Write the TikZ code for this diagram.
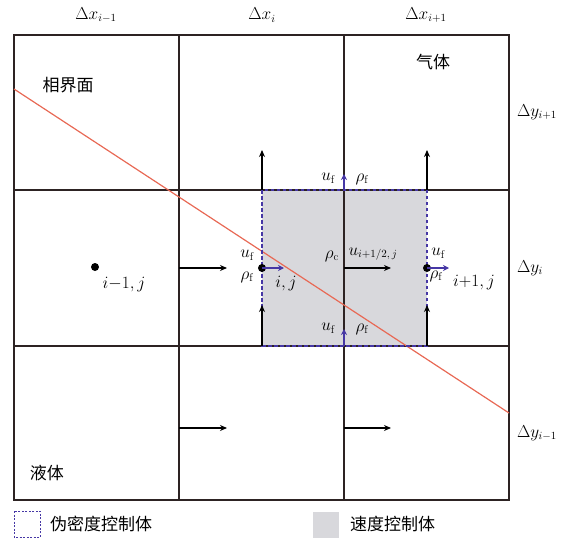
\documentclass[tikz,border=0pt]{standalone}
\usepackage{fontspec}
\newfontfamily\cjk{Noto Sans CJK SC}
\usetikzlibrary{arrows.meta}
\definecolor{gridc}{RGB}{45,35,35}
\definecolor{redl}{RGB}{232,105,85}
\definecolor{bluec}{RGB}{70,55,165}
\definecolor{grayf}{RGB}{216,216,220}
\begin{document}
\begin{tikzpicture}[x=1pt,y=-1pt,
  gridline/.style={draw=gridc,line width=1.6pt},
  blk/.style={-{Stealth[length=7pt,width=6pt]},line width=1.3pt,black},
  blu/.style={-{Stealth[length=6pt,width=6pt]},line width=1.8pt,bluec},
  lab/.style={font=\fontsize{16}{18}\selectfont,inner sep=0pt},
  cn/.style={font=\cjk\fontsize{17}{19}\selectfont,inner sep=0pt},
  dotn/.style={circle,fill=black,inner sep=0pt,minimum size=8pt}]
\useasboundingbox (0,0) rectangle (566,538);
% velocity control volume
\fill[grayf] (262,190) rectangle (427,346);
% grid
\draw[gridline] (14,35) rectangle (509,500);
\draw[gridline] (179,35) -- (179,500) (344,35) -- (344,500);
\draw[gridline] (14,190) -- (509,190) (14,346) -- (509,346);
% interface
\coordinate (ifa) at (14,89);
\coordinate (ifb) at (509,413);
\draw[redl,line width=1.2pt] (ifa) -- (ifb);
% pseudo-density control volume
\draw[bluec,line width=1.3pt,dash pattern=on 3.5pt off 2.5pt] (262,190) rectangle (427,346);
% cell centres
\node[dotn] (pim) at (95,267) {};
\node[dotn] (pc) at (262,268) {};
\node[dotn] (pip) at (427,268) {};
% black velocity arrows
\coordinate (h1s) at (179,268); \coordinate (h1e) at (227,268);
\coordinate (h2s) at (344,268); \coordinate (h2e) at (391,268);
\coordinate (h3s) at (179,428); \coordinate (h3e) at (227,428);
\coordinate (h4s) at (344,428); \coordinate (h4e) at (391,428);
\coordinate (v1s) at (262,190); \coordinate (v1e) at (262,150);
\coordinate (v2s) at (427,190); \coordinate (v2e) at (427,150);
\coordinate (v3s) at (262,346); \coordinate (v3e) at (262,305);
\coordinate (v4s) at (427,346); \coordinate (v4e) at (427,305);
\foreach \a in {h1,h2,h3,h4,v1,v2,v3,v4} \draw[blk] (\a s) -- (\a e);
% blue face arrows
\coordinate (b1e) at (284,268);
\coordinate (b2e) at (449,268);
\coordinate (b3s) at (344,190); \coordinate (b3e) at (344,174);
\coordinate (b4s) at (344,346); \coordinate (b4e) at (344,329);
\draw[blu] (pc.center) -- (b1e);
\draw[blu] (pip.center) -- (b2e);
\draw[blu] (b3s) -- (b3e);
\draw[blu] (b4s) -- (b4e);
% axis labels
\node[lab] (dx1) at (96,15) {$\Delta x_{i-1}$};
\node[lab] (dx2) at (262,15) {$\Delta x_{i}$};
\node[lab] (dx3) at (426,15) {$\Delta x_{i+1}$};
\node[lab] (dy1) at (537,112) {$\Delta y_{i+1}$};
\node[lab] (dy2) at (530,268) {$\Delta y_{i}$};
\node[lab] (dy3) at (537,433) {$\Delta y_{i-1}$};
% region labels
\node[cn] (t1) at (68,85) {相界面};
\node[cn] (t2) at (433,62) {气体};
\node[cn] (t3) at (47,473) {液体};
% cell labels
\node[lab] (l1) at (124,285) {$i{-}1,j$};
\node[lab] (l2) at (286,284) {$i,j$};
\node[lab] (l3) at (474,283) {$i{+}1,j$};
% face labels
\node[lab] (uf1) at (247,255) {$u_{\mathrm f}$};
\node[lab] (rf1) at (247,277) {$\rho_{\mathrm f}$};
\node[lab] (uf2) at (328,178) {$u_{\mathrm f}$};
\node[lab] (rf2) at (362,179) {$\rho_{\mathrm f}$};
\node[lab] (uf3) at (328,328) {$u_{\mathrm f}$};
\node[lab] (rf3) at (362,329) {$\rho_{\mathrm f}$};
\node[lab] (uf4) at (438,253) {$u_{\mathrm f}$};
\node[lab] (rf4) at (436,276) {$\rho_{\mathrm f}$};
\node[lab] (rc) at (332,256) {$\rho_{\mathrm c}$};
\node[lab] (uh) at (373,254) {$u_{i+1/2,\,j}$};
% legend
\draw[bluec,line width=0.9pt,dash pattern=on 2pt off 1.5pt] (14,511) rectangle (40,537);
\fill[grayf] (313,512) rectangle (339,538);
\node[cn,anchor=west] (lg1) at (50,524) {伪密度控制体};
\node[cn,anchor=west] (lg2) at (350,524) {速度控制体};
\end{tikzpicture}
\end{document}
